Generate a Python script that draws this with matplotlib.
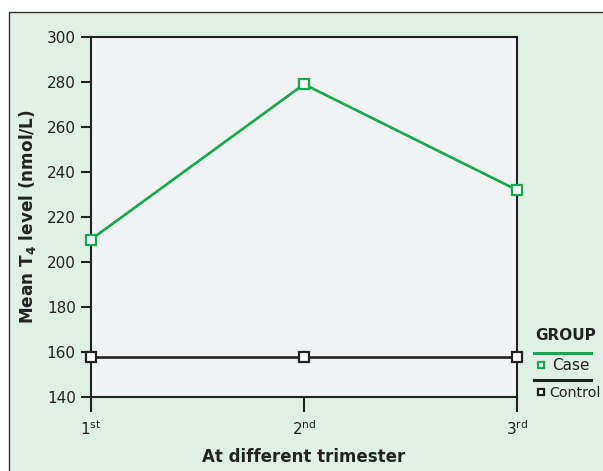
import numpy as np
import matplotlib
matplotlib.use("Agg")
import matplotlib.pyplot as plt
from matplotlib.patches import Rectangle
from matplotlib.lines import Line2D

plt.rcParams['font.family'] = ['DejaVu Sans']
plt.rcParams['mathtext.fontset'] = 'dejavusans'

trimesters = [r'1$^{\mathrm{st}}$', r'2$^{\mathrm{nd}}$', r'3$^{\mathrm{rd}}$']
case_t4 = [210, 279, 232]
control_t4 = [158, 158, 158]

green = '#12a84e'
dark = '#222222'

fig = plt.figure(figsize=(6.03, 4.71), dpi=100)
fig.patch.set_facecolor('white')

# outer panel
fig.patches.append(Rectangle((9 / 603, -0.05), 1.1, 1.05 - 12 / 471,
                             transform=fig.transFigure, facecolor='#e1f0e5',
                             edgecolor='#333333', linewidth=1.0, zorder=-10))

ax = fig.add_axes([91 / 603, 1 - 397 / 471, 426 / 603, 360 / 471])
ax.set_facecolor('#f1f2f4')

x = np.arange(len(trimesters))
ax.plot(x, case_t4, color=green, lw=1.9, marker='s', ms=6.5, mfc='white',
        mec=green, mew=1.6, clip_on=False, zorder=3)
ax.plot(x, control_t4, color=dark, lw=1.9, marker='s', ms=6.5, mfc='white',
        mec=dark, mew=1.6, clip_on=False, zorder=3)

ax.set_xlim(0, 2)
ax.set_ylim(140, 300)
ax.set_yticks(np.arange(140, 301, 20))
ax.set_xticks(x)
ax.set_xticklabels(trimesters)
ax.tick_params(axis='both', colors=dark, labelsize=11, width=1.5)
ax.tick_params(axis='y', length=7, pad=4)
ax.tick_params(axis='x', length=11, pad=5)
for s in ax.spines.values():
    s.set_color(dark)
    s.set_linewidth(1.5)

ax.set_xlabel('At different trimester', fontsize=12, fontweight='bold',
              color=dark, labelpad=7)
ax.set_ylabel(r'Mean T$_{\mathbf{4}}$ level (nmol/L)', fontsize=12.2,
              fontweight='bold', color=dark, labelpad=6)

# legend drawn by hand
def fx(px):
    return px / 603

def fy(py):
    return 1 - py / 471

fig.text(fx(535), fy(336), 'GROUP', fontsize=11, fontweight='bold',
         color=dark, va='center', ha='left')
fig.add_artist(Line2D([fx(534), fx(591)], [fy(353), fy(353)], color=green,
                      lw=2.2, transform=fig.transFigure))
fig.add_artist(Line2D([fx(541)], [fy(365)], marker='s', ms=5, mfc='white',
                      mec=green, mew=1.6, transform=fig.transFigure))
fig.text(fx(552), fy(366), 'Case', fontsize=11, color=dark, va='center',
         ha='left')
fig.add_artist(Line2D([fx(534), fx(591)], [fy(380), fy(380)], color=dark,
                      lw=2.2, transform=fig.transFigure))
fig.add_artist(Line2D([fx(541)], [fy(392)], marker='s', ms=5, mfc='white',
                      mec=dark, mew=1.6, transform=fig.transFigure))
fig.text(fx(549), fy(393), 'Control', fontsize=10.3, color=dark, va='center',
         ha='left')

fig.savefig('out.png', dpi=100)
